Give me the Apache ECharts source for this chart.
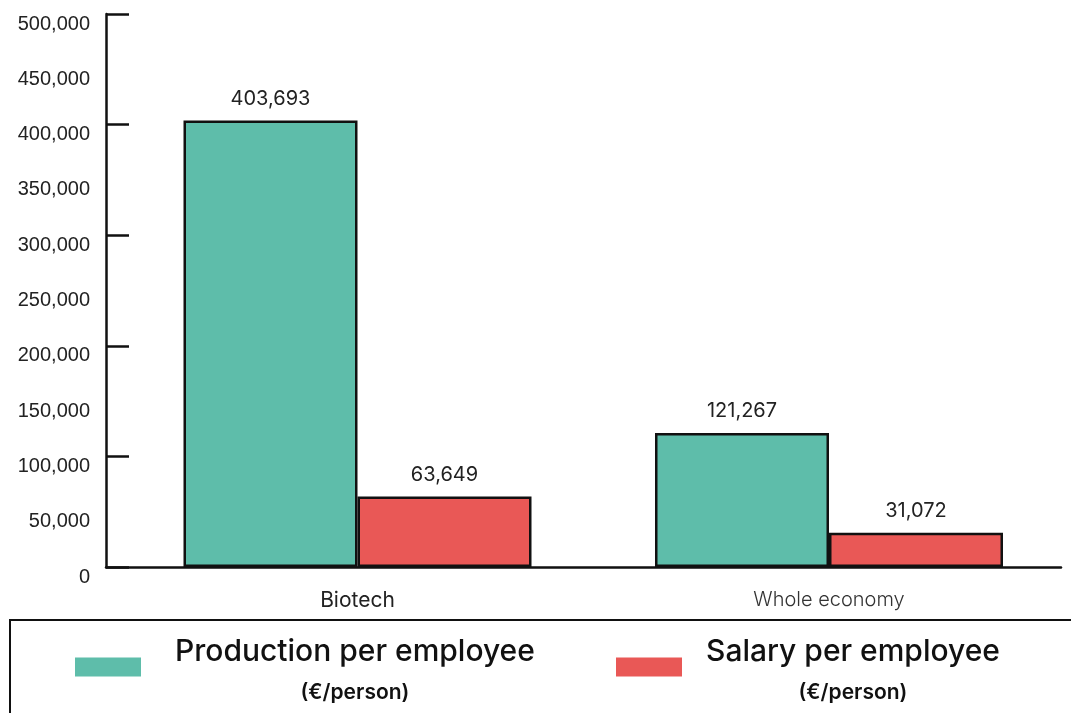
<!DOCTYPE html>
<html>
<head>
<meta charset="utf-8">
<script src="https://cdn.jsdelivr.net/npm/echarts@6/dist/echarts.min.js"></script>
<style>
  html, body { margin: 0; padding: 0; background: #fff; }
  #chart { width: 1071px; height: 713px; }
</style>
</head>
<body>
<div id="chart"></div>
<script>
// data
var categories = ['Biotech', 'Whole economy'];
var production = [403693, 121267];
var salary = [63649, 31072];
var seriesNames = ['Production per employee', 'Salary per employee'];
var unitLabel = '(€/person)';

var fmt = function (v) { return v.toLocaleString('en-US'); };

var chart = echarts.init(document.getElementById('chart'));

function legendFor(name, left, gap) {
  return {
    left: left,
    top: 632,
    data: [name],
    icon: 'rect',
    itemWidth: 66,
    itemHeight: 19,
    itemStyle: { borderWidth: 0 },
    selectedMode: false,
    formatter: function (n) { return '{a|' + n + '}\n{b|' + unitLabel + '}'; },
    textStyle: {
      padding: [0, 0, 0, gap],
      rich: {
        a: { fontFamily: 'Inter', fontSize: 30, fontWeight: 500, color: '#111', lineHeight: 52, align: 'center' },
        b: { fontFamily: 'Inter', fontSize: 21, fontWeight: 600, color: '#111', lineHeight: 30, align: 'center' }
      }
    }
  };
}

var option = {
  animation: false,
  backgroundColor: '#fff',
  grid: [
    { left: 106, top: 14, width: 955, height: 553 },
    { left: 121.75, top: 14, width: 943, height: 553 }
  ],
  xAxis: [{
    gridIndex: 0,
    type: 'category',
    data: categories,
    axisLine: { lineStyle: { color: '#111', width: 2.5 } },
    axisTick: { inside: true, length: 12, lineStyle: { color: '#111', width: 2.5 } },
    axisLabel: { show: false }
  }, {
    gridIndex: 1,
    type: 'category',
    data: categories,
    axisLine: { show: false },
    axisTick: { show: false },
    axisLabel: {
      margin: 23,
      formatter: function (v, i) { return i === 0 ? '{a|' + v + '}' : '{b|' + v + '}'; },
      rich: {
        a: { fontFamily: 'Inter', fontSize: 21, color: '#222' },
        b: { fontFamily: 'Inter', fontSize: 20, fontWeight: 300, color: '#333' }
      }
    }
  }],
  yAxis: [{
    gridIndex: 0,
    type: 'value',
    position: 'left',
    min: 0, max: 500000, interval: 100000,
    axisLine: { show: true, lineStyle: { color: '#111', width: 2.5 } },
    axisTick: { show: true, inside: true, length: 23, lineStyle: { color: '#111', width: 2.5 } },
    axisLabel: { show: false },
    splitLine: { show: false }
  }, {
    gridIndex: 0,
    type: 'value',
    position: 'left',
    offset: 0,
    min: 0, max: 500000, interval: 50000,
    axisLine: { show: false },
    axisTick: { show: false },
    splitLine: { show: false },
    axisLabel: {
      margin: 16,
      verticalAlign: 'top',
      fontFamily: 'Liberation Sans',
      fontSize: 20,
      color: '#222',
      formatter: fmt
    }
  }, {
    gridIndex: 1,
    type: 'value',
    min: 0, max: 500000,
    show: false
  }],
  legend: [
    legendFor(seriesNames[0], 70, 29),
    legendFor(seriesNames[1], 611, 19)
  ],
  graphic: [{
    type: 'rect',
    shape: { x: 10, y: 620, width: 1200, height: 200 },
    style: { fill: 'none', stroke: '#111', lineWidth: 2 },
    silent: true
  }],
  series: [{
    name: seriesNames[0],
    type: 'bar',
    xAxisIndex: 1,
    yAxisIndex: 2,
    data: production,
    barWidth: 174,
    barGap: '0%',
    itemStyle: { color: '#5EBDAA', borderColor: '#111', borderWidth: 2.5 },
    label: {
      show: true, position: 'top', distance: 12,
      fontFamily: 'Inter', fontSize: 20, color: '#222',
      formatter: function (p) { return fmt(p.value); }
    }
  }, {
    name: seriesNames[1],
    type: 'bar',
    xAxisIndex: 1,
    yAxisIndex: 2,
    data: salary,
    barWidth: 174,
    barGap: '0%',
    itemStyle: { color: '#E95856', borderColor: '#111', borderWidth: 2.5 },
    label: {
      show: true, position: 'top', distance: 12,
      fontFamily: 'Inter', fontSize: 20, color: '#222',
      formatter: function (p) { return fmt(p.value); }
    }
  }]
};

chart.setOption(option);
</script>
</body>
</html>
